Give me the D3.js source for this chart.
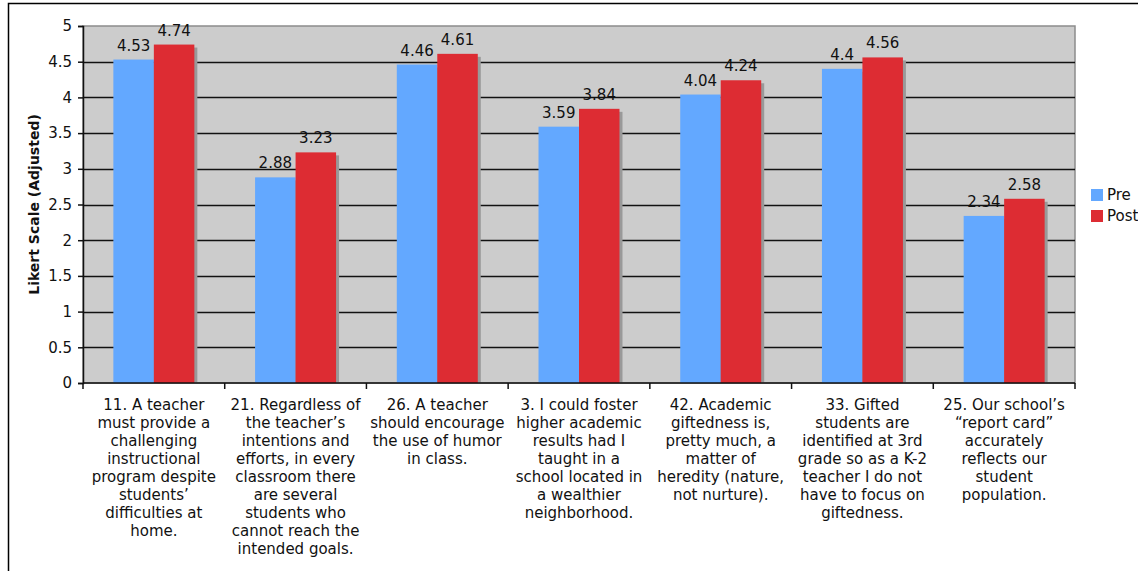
<!DOCTYPE html>
<html>
<head>
<meta charset="utf-8">
<script src="https://cdn.jsdelivr.net/npm/d3@7"></script>
<style>
  html, body { margin: 0; padding: 0; background: #fff; }
  svg { display: block; font-family: "DejaVu Sans", Verdana, sans-serif; }
</style>
</head>
<body>
<svg id="chart" width="1138" height="571"></svg>
<script>
const categories = [
  ["11. A teacher", "must provide a", "challenging", "instructional", "program despite", "students’", "difficulties at", "home."],
  ["21. Regardless of", "the teacher’s", "intentions and", "efforts, in every", "classroom there", "are several", "students who", "cannot reach the", "intended goals."],
  ["26. A teacher", "should encourage", "the use of humor", "in class."],
  ["3. I could foster", "higher academic", "results had I", "taught in a", "school located in", "a wealthier", "neighborhood."],
  ["42. Academic", "giftedness is,", "pretty much, a", "matter of", "heredity (nature,", "not nurture)."],
  ["33. Gifted", "students are", "identified at 3rd", "grade so as a K-2", "teacher I do not", "have to focus on", "giftedness."],
  ["25. Our school’s", "“report card”", "accurately", "reflects our", "student", "population."]
];
const seriesNames = ["Pre", "Post"];
const preValues  = [4.53, 2.88, 4.46, 3.59, 4.04, 4.4, 2.34];
const postValues = [4.74, 3.23, 4.61, 3.84, 4.24, 4.56, 2.58];
const yTicks = [0, 0.5, 1, 1.5, 2, 2.5, 3, 3.5, 4, 4.5, 5];
const yTitle = "Likert Scale (Adjusted)";
const colors = ["#63a8ff", "#dd2c33"];

(function () {
const svg = d3.select("#chart");
const pL = 83, pR = 1075, pT = 26, pB = 383;

// outer frame
svg.append("rect").attr("x", 8.5).attr("y", 3.5).attr("width", 1140).attr("height", 580)
  .attr("fill", "none").attr("stroke", "#000").attr("stroke-width", 1.5);

const x = d3.scaleBand().domain(d3.range(categories.length)).range([pL, pR]).paddingInner(0).paddingOuter(0);
const y = d3.scaleLinear().domain([0, 5]).range([pB, pT]);
const xs = d3.scaleBand().domain([0, 1]).range([0, x.bandwidth()]).paddingInner(0).paddingOuter(0.75);

// plot background
svg.append("rect").attr("x", pL).attr("y", pT).attr("width", pR - pL).attr("height", pB - pT)
  .attr("fill", "#cccccc").attr("stroke", "#8c8c8c").attr("stroke-width", 1.5);

// gridlines
svg.append("g").selectAll("line").data(yTicks.filter(d => d > 0 && d < 5)).join("line")
  .attr("x1", pL).attr("x2", pR)
  .attr("y1", d => Math.round(y(d)) + 0.5).attr("y2", d => Math.round(y(d)) + 0.5)
  .attr("stroke", "#111").attr("stroke-width", 1.5);

const data = categories.map((c, i) => ({ i, vals: [preValues[i], postValues[i]] }));

const groups = svg.append("g").selectAll("g").data(data).join("g")
  .attr("transform", d => `translate(${x(d.i)},0)`);
groups.selectAll("rect.shadow").data(d => d.vals.map((v, k) => ({ v, k }))).join("rect")
  .attr("class", "shadow")
  .attr("x", d => xs(d.k) + 3).attr("y", d => y(d.v) + 3)
  .attr("width", xs.bandwidth()).attr("height", d => pB - y(d.v) - 3)
  .attr("fill", "#999999");
groups.selectAll("rect.bar").data(d => d.vals.map((v, k) => ({ v, k }))).join("rect")
  .attr("class", "bar")
  .attr("x", d => xs(d.k)).attr("y", d => y(d.v))
  .attr("width", xs.bandwidth()).attr("height", d => pB - y(d.v))
  .attr("fill", d => colors[d.k]);
groups.selectAll("text.val").data(d => d.vals.map((v, k) => ({ v, k }))).join("text")
  .attr("class", "val")
  .attr("x", d => xs(d.k) + xs.bandwidth() / 2).attr("y", d => y(d.v) - 9)
  .attr("text-anchor", "middle").attr("font-size", 15).attr("fill", "#111")
  .text(d => d.v);

// y axis
const yAxis = svg.append("g").attr("transform", `translate(${pL},0)`)
  .call(d3.axisLeft(y).tickValues(yTicks).tickSize(5).tickPadding(6).tickFormat(d => d));
yAxis.select(".domain").attr("stroke", "#111").attr("stroke-width", 1.5);
yAxis.selectAll(".tick line").attr("stroke", "#111").attr("stroke-width", 1.5);
yAxis.selectAll(".tick text").attr("font-size", 15).attr("fill", "#111").attr("font-family", "DejaVu Sans, Verdana, sans-serif");

// x axis
const boundaries = d3.range(categories.length + 1).map(i => pL + i * x.bandwidth());
svg.append("line").attr("x1", pL).attr("x2", pR).attr("y1", pB).attr("y2", pB)
  .attr("stroke", "#111").attr("stroke-width", 1.5);
svg.append("g").selectAll("line").data(boundaries).join("line")
  .attr("x1", d => d).attr("x2", d => d).attr("y1", pB).attr("y2", pB + 6)
  .attr("stroke", "#111").attr("stroke-width", 1.5);

// category labels
const labels = svg.append("g").selectAll("text").data(categories).join("text")
  .attr("x", (d, i) => x(i) + x.bandwidth() / 2).attr("y", 410)
  .attr("text-anchor", "middle").attr("font-size", 15).attr("fill", "#111");
labels.selectAll("tspan").data(d => d).join("tspan")
  .attr("x", function() { return this.parentNode.getAttribute("x"); })
  .attr("dy", (d, i) => i === 0 ? 0 : 18)
  .text(d => d);

// y title
svg.append("text").attr("transform", `translate(39,${(pT + pB) / 2}) rotate(-90)`)
  .attr("text-anchor", "middle").attr("font-size", 14).attr("font-weight", "bold").attr("fill", "#111")
  .text(yTitle);

// legend
const legend = svg.append("g").attr("transform", "translate(1091,189)");
const li = legend.selectAll("g").data(seriesNames).join("g").attr("transform", (d, i) => `translate(0,${i * 21})`);
li.append("rect").attr("width", 12).attr("height", 12).attr("fill", (d, i) => colors[i]);
li.append("text").attr("x", 16).attr("y", 11).attr("font-size", 15).attr("fill", "#111").text(d => d);
})();
</script>
</body>
</html>
